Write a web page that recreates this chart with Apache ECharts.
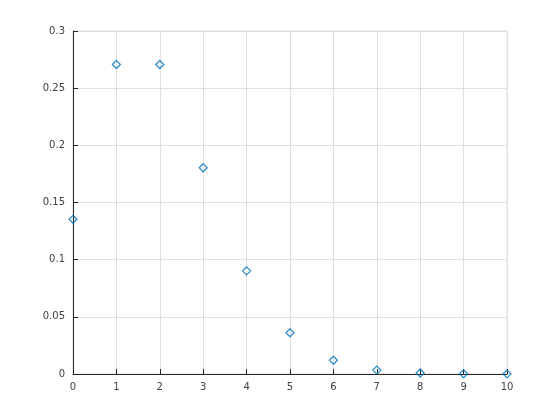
<!DOCTYPE html>
<html><head><meta charset="utf-8">
<script src="https://cdn.jsdelivr.net/npm/echarts@6/dist/echarts.min.js"></script>
<style>html,body{margin:0;padding:0;background:#fff}#c{width:560px;height:420px}</style>
</head><body><div id="c"></div>
<script>
const xValues = [0, 1, 2, 3, 4, 5, 6, 7, 8, 9, 10];
const yValues = [0.1353, 0.2707, 0.2707, 0.1804, 0.0902, 0.0361, 0.0120, 0.0034, 0.0009, 0.0002, 0.00004];
const yTicks = [0, 0.05, 0.1, 0.15, 0.2, 0.25, 0.3];

const chart = echarts.init(document.getElementById('c'));
const axisCommon = {
  axisLine: {show: true, lineStyle: {color: '#262626', width: 1}},
  axisTick: {show: true, inside: true, length: 5, lineStyle: {color: '#262626'}},
  axisLabel: {color: '#404040', fontFamily: 'DejaVu Sans', fontSize: 10},
  splitLine: {show: true, lineStyle: {color: '#dfdfdf', width: 1}}
};
chart.setOption({
  animation: false,
  grid: {left: 73, right: 53, top: 31, bottom: 46, show: true, borderColor: '#dfdfdf', borderWidth: 1},
  xAxis: Object.assign({type: 'value', min: 0, max: 10, interval: 1}, axisCommon, {
    axisLabel: Object.assign({}, axisCommon.axisLabel, {margin: 8})
  }),
  yAxis: Object.assign({type: 'value', min: 0, max: 0.3, interval: 0.05}, axisCommon, {
    axisLabel: Object.assign({}, axisCommon.axisLabel, {margin: 8, formatter: v => {
      const t = yTicks.find(k => Math.abs(k - v) < 1e-9);
      return t === undefined ? '' : String(t);
    }})
  }),
  series: [{
    type: 'scatter',
    data: xValues.map((x, i) => [x, yValues[i]]),
    symbol: 'diamond',
    symbolSize: [8, 8],
    itemStyle: {color: 'rgba(255,255,255,0)', borderColor: '#0072BD', borderWidth: 1.3}
  }]
});
</script></body></html>
